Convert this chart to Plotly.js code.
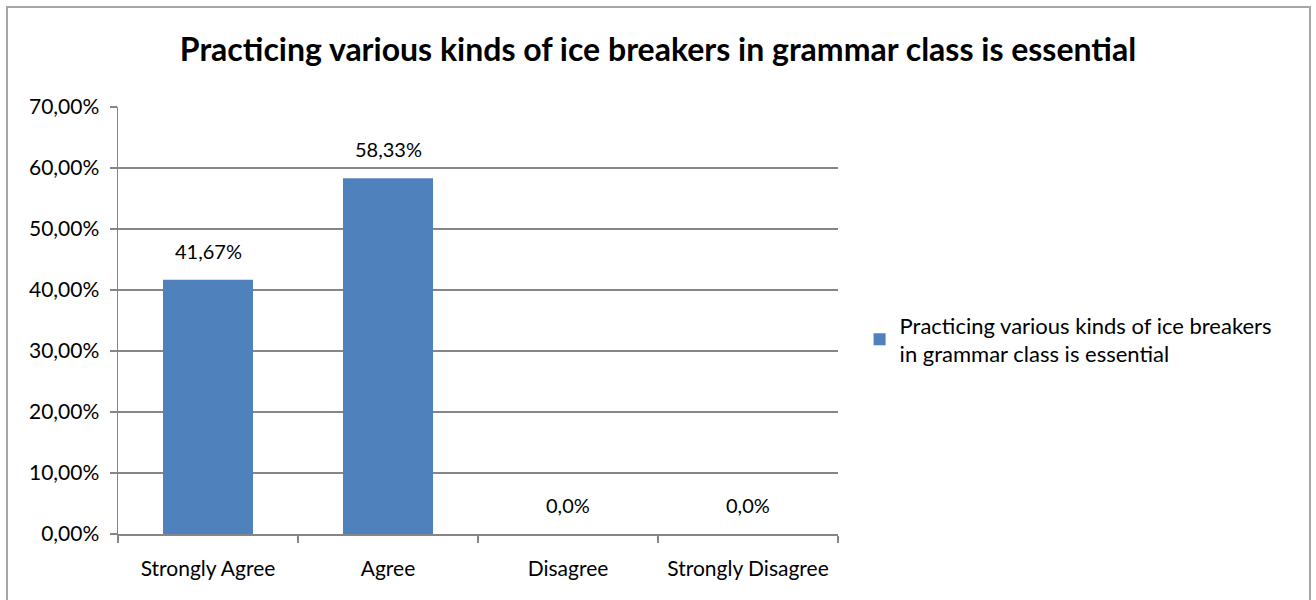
<!DOCTYPE html>
<html>
<head>
<meta charset="utf-8">
<script src="https://cdn.plot.ly/plotly-3.0.1.min.js"></script>
<style>html,body{margin:0;padding:0;background:#fff;}#chart{width:1316px;height:600px;}</style>
</head>
<body>
<div id="chart"></div>
<script>
const categories = ["Strongly Agree", "Agree", "Disagree", "Strongly Disagree"];
const values = [0.4167, 0.5833, 0, 0];
const valueLabels = ["41,67%", "58,33%", "0,0%", "0,0%"];
const seriesName = "Practicing various kinds of ice breakers<br>in grammar class is essential";
const chartTitle = "Practicing various kinds of ice breakers in grammar class is essential";

const FONT = "Lato, 'Open Sans', sans-serif";

const trace = {
  type: "bar",
  x: categories,
  y: values,
  name: seriesName,
  marker: {color: "#4F81BD"},
  width: 0.5,
  showlegend: true,
  hoverinfo: "none"
};

const annotations = categories.map((c, i) => ({
  x: c, y: values[i], xref: "x", yref: "y",
  text: valueLabels[i], showarrow: false,
  yshift: 29, font: {family: FONT, size: 20, color: "#000"}
}));

const layout = {
  width: 1316, height: 600,
  margin: {l: 118, r: 478, t: 107, b: 66},
  paper_bgcolor: "#fff", plot_bgcolor: "#fff",
  separators: ",.",
  title: {text: "<b>" + chartTitle + "</b>", x: 0.5, xref: "container", xanchor: "center",
          y: 1 - 50/600, yref: "container", yanchor: "middle",
          font: {family: FONT, size: 32, color: "#000"}},
  font: {family: FONT, size: 20, color: "#000"},
  xaxis: {
    type: "category", tickson: "boundaries", ticks: "outside", ticklen: 7, tickcolor: "#868686", tickwidth: 1.5,
    showline: true, linecolor: "#868686", linewidth: 1.5, showgrid: false, ticklabelstandoff: 15,
    tickfont: {family: FONT, size: 21, color: "#000"}, fixedrange: true
  },
  yaxis: {
    range: [0, 0.7], dtick: 0.1, tickformat: ".2%", ticks: "outside", ticklen: 7, tickcolor: "#868686", tickwidth: 1.5,
    showline: true, linecolor: "#868686", linewidth: 1.5, showgrid: true, gridcolor: "#868686", gridwidth: 1.5,
    zeroline: false, ticklabelstandoff: 6, tickfont: {family: FONT, size: 21, color: "#000"}, fixedrange: true
  },
  legend: {x: 1.03, xanchor: "left", y: 0.455, yanchor: "middle", xref: "paper", yref: "paper",
           font: {family: FONT, size: 22, color: "#000"}, bgcolor: "rgba(0,0,0,0)", itemwidth: 30},
  annotations: annotations,
  shapes: [{type: "rect", xref: "paper", yref: "paper",
            x0: (7-118)/720, x1: (1310-118)/720, y0: (534-605)/427, y1: (534-7)/427,
            line: {color: "#A6A6A6", width: 2}, fillcolor: "rgba(0,0,0,0)", layer: "below"}],
  bargap: 0.5
};

Plotly.newPlot("chart", [trace], layout, {displayModeBar: false, staticPlot: true});
</script>
</body>
</html>
